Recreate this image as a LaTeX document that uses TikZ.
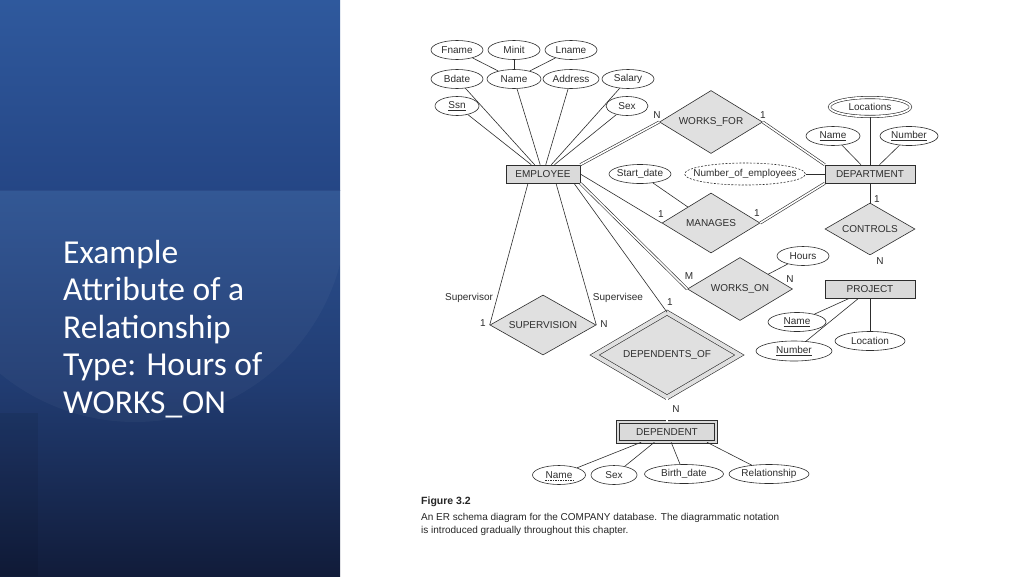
\documentclass[tikz,border=0pt]{standalone}
\usepackage{fontspec}
\setmainfont{Liberation Sans}
\newfontfamily\slidefont{Carlito}
\usetikzlibrary{shapes.geometric}
\definecolor{ln}{RGB}{45,45,45}
\definecolor{ef}{RGB}{218,218,218}
\definecolor{rf}{RGB}{224,224,224}
\definecolor{bgtopA}{RGB}{47,89,157}
\definecolor{bgtopB}{RGB}{37,70,133}
\definecolor{bglowA}{RGB}{44,82,146}
\definecolor{bglowM}{RGB}{33,60,114}
\definecolor{bglowB}{RGB}{17,28,58}
\begin{document}
\begin{tikzpicture}[x=1pt,y=-1pt,
  every node/.style={font=\fontsize{10}{12}\selectfont, text=ln},
  attr/.style={ellipse,draw=ln,fill=white,inner sep=0pt,minimum height=19,line width=0.6pt},
  ent/.style={rectangle,draw=ln,fill=ef,minimum width=74,minimum height=18,inner sep=0pt,line width=0.6pt},
  rel/.style={diamond,draw=ln,fill=rf,inner sep=0pt,line width=0.6pt,aspect=1.7},
  lbl/.style={inner sep=1pt},
  conn/.style={draw=ln,line width=0.6pt},
  dbl/.style={draw=ln,line width=0.6pt,double=white,double distance=1.6pt},
  slide/.style={anchor=base west,inner sep=0pt,text=white,font=\slidefont\fontsize{33.5}{37.5}\selectfont},
  captxt/.style={anchor=base west,inner sep=0pt,font=\fontsize{10}{12}\selectfont,text=black!85},
]
\useasboundingbox (0,0) rectangle (1024,576);
\fill[white] (0,0) rectangle (1024,576);
% left panel background
\shade[top color=bglowA, bottom color=bglowB, middle color=bglowM] (0,190) rectangle (340,576);
\shade[top color=bgtopA, bottom color=bgtopB] (0,0) rectangle (340,190);
\begin{scope}
  \clip (0,190) rectangle (340,576);
  \fill[white,opacity=0.035] (135,210) circle (212);
  \fill[black,opacity=0.07] (0,413) rectangle (38,576);
\end{scope}
% slide title
\node[slide] (t1) at (63,263) {Example};
\node[slide] (t2) at (63,300.5) {Attribute of a};
\node[slide] (t3) at (63,338) {Relationship};
\node[slide] (t4) at (63,375.5) {Type: Hours of};
\node[slide] (t5) at (63,413) {WORKS\_ON};

% EMPLOYEE side
\node[attr,minimum width=52] (fname) at (457,50) {Fname};
\node[attr,minimum width=52] (minit) at (514,50) {Minit};
\node[attr,minimum width=52] (lname) at (571,50) {Lname};
\node[attr,minimum width=52] (bdate) at (457,79) {Bdate};
\node[attr,minimum width=54] (ename) at (514,79) {Name};
\node[attr,minimum width=56] (addr) at (571,79) {Address};
\node[attr,minimum width=52] (salary) at (628,79) {Salary};
\node[attr,minimum width=44] (ssn) at (457,106) {\underline{Ssn}};
\node[attr,minimum width=42] (esex) at (627,106) {Sex};
\node[ent] (emp) at (543,174) {EMPLOYEE};

% DEPARTMENT side
\node[rel,minimum width=103,minimum height=63,aspect=1.65] (wf) at (711,122) {WORKS\_FOR};
\node[attr,minimum width=81,minimum height=19,double=white,double distance=1.8pt] (locs) at (870,107) {Locations};
\node[attr,minimum width=54] (dname) at (833,136) {\underline{Name}};
\node[attr,minimum width=58] (dnum) at (909,136) {\underline{Number}};
\node[ent,minimum width=90] (dept) at (870,174) {DEPARTMENT};
\node[attr,minimum width=62,inner xsep=-2pt] (sdate) at (640,174) {Start\_date};
\node[attr,dash pattern=on 2pt off 1.5pt,minimum width=119,minimum height=22,inner xsep=-9pt] (noe) at (745,174) {Number\_of\_employees};
\node[rel,minimum width=98,minimum height=60,aspect=1.63] (mg) at (711,223) {MANAGES};
\node[rel,minimum width=90,minimum height=52,aspect=1.73] (ctrl) at (870,229) {CONTROLS};

% PROJECT side
\node[ent,minimum width=90] (proj) at (870,289) {PROJECT};
\node[attr,minimum width=52] (hours) at (803,256) {Hours};
\node[rel,minimum width=105,minimum height=63,aspect=1.67] (wo) at (740,289) {WORKS\_ON};
\node[attr,minimum width=58] (pname) at (797,322) {\underline{Name}};
\node[attr,minimum width=76,minimum height=20] (pnum) at (794,351) {\underline{Number}};
\node[attr,minimum width=70] (ploc) at (870,341) {Location};

% SUPERVISION, DEPENDENTS
\node[rel,minimum width=106,minimum height=60,aspect=1.77] (sup) at (543,325) {SUPERVISION};
\node[rel,minimum width=145,minimum height=85,aspect=1.71,double=rf,double distance=4pt] (dof) at (667,355) {DEPENDENTS\_OF};
\node[ent,minimum width=98,minimum height=20,double=ef,double distance=2.5pt] (dep) at (667,432) {DEPENDENT};
\node[attr,minimum width=53] (depname) at (559,475) {Name};
\draw[ln,line width=0.5pt,dash pattern=on 1.5pt off 1pt] ([xshift=-14pt,yshift=-2pt]depname.base) -- ([xshift=14pt,yshift=-2pt]depname.base);
\node[attr,minimum width=46] (depsex) at (614,475) {Sex};
\node[attr,minimum width=79] (bdate2) at (684,474) {Birth\_date};
\node[attr,minimum width=80] (relsh) at (769,474) {Relationship};

% connectors
\draw[conn] (fname) -- (ename);
\draw[conn] (minit) -- (ename);
\draw[conn] (lname) -- (ename);
\draw[conn] (bdate) -- (emp);
\draw[conn] (ename) -- (emp);
\draw[conn] (addr) -- (emp);
\draw[conn] (salary) -- (emp);
\draw[conn] (ssn) -- (emp);
\draw[conn] (esex) -- (emp);
\draw[dbl] (emp.north east) -- (wf.west);
\draw[dbl] (wf.east) -- (dept.north west);
\draw[conn] (emp.east) -- (mg.west);
\draw[dbl] (mg.east) -- (dept.south west);
\draw[conn] (sdate) -- (mg);
\draw[conn] (noe) -- (dept);
\draw[conn] (locs) -- (dept);
\draw[conn] (dname) -- (dept);
\draw[conn] (dnum) -- (dept);
\draw[conn] (dept) -- (ctrl);
\draw[dbl] (ctrl) -- (proj);
\draw[dbl] (emp.south east) -- (wo.west);
\draw[dbl] (wo.east) -- (proj.west);
\draw[conn] (hours) -- (wo);
\draw[conn] (proj) -- (pname);
\draw[conn] (proj) -- (pnum);
\draw[conn] (proj) -- (ploc);
\draw[conn] ([xshift=-15pt]emp.south) -- (sup.west);
\draw[conn] ([xshift=13pt]emp.south) -- (sup.east);
\draw[conn] ([xshift=31pt]emp.south) -- (dof.north);
\draw[dbl] (dof) -- (dep);
\draw[conn] (dep) -- (depname);
\draw[conn] (dep) -- (depsex);
\draw[conn] (dep) -- (bdate2);
\draw[conn] ([xshift=40pt]dep.south) -- (relsh);

% cardinality and role labels
\node[lbl] (lwf1) at (657,115) {N};
\node[lbl] (lwf2) at (763,115) {1};
\node[lbl] (lmg1) at (661,214) {1};
\node[lbl] (lmg2) at (757,213) {1};
\node[lbl] (lc1) at (877,199) {1};
\node[lbl] (lc2) at (880,261) {N};
\node[lbl] (lwo1) at (689,276) {M};
\node[lbl] (lwo2) at (790,279) {N};
\node[lbl] (lsup1) at (469,298) {Supervisor};
\node[lbl] (lsup2) at (618,298) {Supervisee};
\node[lbl] (ls1) at (483,323) {1};
\node[lbl] (ls2) at (604,324) {N};
\node[lbl] (ld1) at (670,302) {1};
\node[lbl] (ld2) at (676,409) {N};

% caption
\node[captxt,font=\bfseries\fontsize{10.5}{12}\selectfont] (c1) at (421,504) {Figure 3.2};
\node[captxt] (c2) at (421,520) {An ER schema diagram for the COMPANY database. The diagrammatic notation};
\node[captxt] (c3) at (421,533) {is introduced gradually throughout this chapter.};
\end{tikzpicture}
\end{document}
